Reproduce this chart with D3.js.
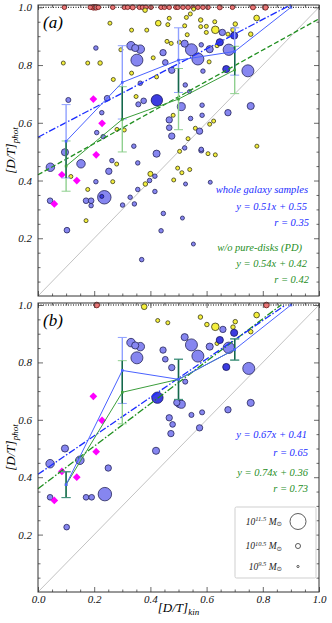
<!DOCTYPE html>
<html><head><meta charset="utf-8">
<script src="https://cdn.jsdelivr.net/npm/d3@7"></script>
<style>body{margin:0;background:#fff}svg{display:block}</style>
</head><body>
<script>
// ---------------- DATA ----------------
const xTickValues = [0.0, 0.2, 0.4, 0.6, 0.8, 1.0];
const yTickValues = [0.2, 0.4, 0.6, 0.8, 1.0];
const minorTickValues = [0.05,0.1,0.15,0.25,0.3,0.35,0.45,0.5,0.55,0.65,0.7,0.75,0.85,0.9,0.95];

// [D/T]kin, [D/T]phot, log stellar mass
const blueA = [
[0.206,0.859,10.4],[0.331,0.867,10.95],[0.346,0.859,10.8],[0.364,0.855,10.95],[0.352,0.817,11.25],[0.445,0.843,10.7],[0.453,0.809,10.6],[0.476,0.782,10.7],[0.364,0.737,10.4],[0.108,0.679,10.5],[0.246,0.685,10.6],[0.376,0.676,10.6],[0.357,0.664,10.5],[0.510,0.656,10.9],[0.227,0.635,10.4],[0.467,0.610,10.7],[0.467,0.583,10.6],[0.476,0.554,10.7],[0.209,0.566,10.4],[0.232,0.552,10.4],[0.341,0.519,10.4],
[0.546,0.853,11.25],[0.569,0.821,11.25],[0.611,0.855,10.8],[0.522,0.874,10.8],[0.581,0.870,10.4],[0.656,0.913,10.7],[0.679,0.853,11.2],[0.747,0.780,11.25],[0.587,0.779,10.4],[0.524,0.731,10.4],[0.539,0.708,10.3],[0.584,0.661,10.4],[0.757,0.658,10.8],[0.584,0.626,10.4],[0.676,0.635,10.7],[0.543,0.615,10.4],[0.575,0.571,10.7],[0.522,0.513,10.4],[0.581,0.508,10.4],
[0.096,0.498,10.8],[0.044,0.446,10.95],[0.153,0.458,10.95],[0.263,0.469,10.4],[0.252,0.432,10.7],[0.206,0.396,10.4],[0.043,0.330,10.6],[0.171,0.330,10.6],[0.189,0.330,10.6],[0.189,0.313,10.4],[0.236,0.342,11.35],[0.103,0.228,10.6],[0.355,0.461,10.4],[0.422,0.493,10.8],[0.328,0.342,10.4],[0.355,0.369,10.4],[0.343,0.319,10.4],[0.301,0.315,10.4],[0.397,0.400,10.4],[0.416,0.415,10.4],[0.416,0.362,10.4],[0.446,0.286,10.4],[0.438,0.226,10.4],[0.369,0.126,10.4],
[0.581,0.504,10.5],[0.525,0.388,10.3],[0.613,0.394,10.3],[0.514,0.270,10.3],[0.553,0.180,10.3]
];
const darkBlueA = [[0.423,0.678,11.2],[0.647,0.879,10.8],[0.698,0.902,10.8],[0.670,0.786,10.8],[0.227,0.345,10.3]];
const yellowA = [
[0.381,0.990,10.4],[0.256,0.945,10.3],[0.333,0.921,10.3],[0.387,0.921,10.3],[0.428,0.945,10.6],[0.467,0.962,10.3],[0.462,0.940,10.3],[0.459,0.882,10.3],[0.474,0.875,10.3],[0.503,0.879,10.3],[0.090,0.807,10.3],[0.177,0.807,10.3],[0.221,0.807,10.4],[0.295,0.853,10.3],[0.333,0.772,10.3],[0.268,0.750,10.3],[0.410,0.825,10.3],[0.349,0.691,10.3],[0.422,0.759,10.3],[0.481,0.626,10.3],[0.281,0.577,10.3],[0.307,0.575,10.3],
[0.554,0.994,10.3],[0.542,0.977,10.3],[0.528,0.965,10.3],[0.579,0.956,10.4],[0.599,0.934,10.3],[0.629,0.950,10.3],[0.522,0.936,10.3],[0.579,0.933,10.3],[0.631,0.922,10.85],[0.599,0.913,10.3],[0.702,0.942,10.4],[0.694,0.922,10.4],[0.676,0.907,10.3],[0.757,0.907,10.4],[0.778,0.963,10.6],[0.531,0.905,10.3],[0.637,0.867,10.3],[0.609,0.811,10.3],[0.625,0.606,10.3],[0.611,0.595,10.3],[0.560,0.581,10.3],[0.534,0.545,10.3],[0.779,0.519,10.3],
[0.117,0.414,10.3],[0.280,0.457,10.3],[0.266,0.396,10.3],[0.177,0.369,10.3],[0.171,0.261,10.3],[0.400,0.423,10.5],[0.382,0.388,10.4],[0.497,0.443,10.3],[0.483,0.402,10.3],
[0.605,0.493,10.3],[0.631,0.489,10.3],[0.540,0.438,10.3],[0.512,0.427,10.3],[0.504,0.501,10.3]
];
const pureDiskKinA = [0.094,0.186,0.197,0.206,0.215,0.266,0.307,0.319,0.337,0.361,0.372,0.384,0.402,0.438,0.450,0.467,0.491,0.498,0.516,0.534,0.552,0.569,0.587,0.605,0.647,0.692,0.765,0.809];
const pureDiskMassA = [10.4,10.4,10.6,10.6,10.4,10.4,10.4,10.4,10.5,10.4,10.4,10.4,10.4,10.4,10.4,10.4,10.4,10.4,10.4,10.4,10.4,10.4,10.4,10.4,10.5,10.4,10.5,10.6];

const blueB = [
[0.331,0.869,10.95],[0.346,0.859,10.8],[0.364,0.855,10.95],[0.352,0.816,11.25],[0.445,0.843,10.7],[0.453,0.811,10.6],[0.476,0.782,10.7],[0.494,0.660,10.7],[0.503,0.657,10.9],[0.467,0.607,10.7],[0.479,0.584,10.6],[0.473,0.552,10.7],[0.096,0.500,10.8],
[0.658,0.915,10.7],[0.522,0.888,10.8],[0.546,0.861,11.25],[0.569,0.822,11.25],[0.611,0.855,10.8],[0.679,0.851,11.2],[0.750,0.779,11.25],[0.524,0.733,10.5],[0.510,0.654,10.9],[0.757,0.659,10.8],[0.546,0.617,10.5],[0.584,0.626,10.5],[0.676,0.635,10.7],[0.575,0.572,10.7],
[0.043,0.447,10.95],[0.149,0.459,10.95],[0.250,0.432,10.7],[0.420,0.492,10.8],[0.043,0.330,10.6],[0.171,0.330,10.6],[0.191,0.330,10.6],[0.238,0.341,11.35],[0.102,0.226,10.6]
];
const darkBlueB = [[0.425,0.677,11.2],[0.698,0.903,10.8],[0.647,0.878,10.8],[0.670,0.784,10.8]];
const yellowB = [[0.378,0.994,10.6],[0.426,0.946,10.3],[0.462,0.938,10.3],[0.578,0.958,10.4],[0.601,0.932,10.4],[0.631,0.924,10.85],[0.702,0.942,10.4],[0.694,0.923,10.4],[0.778,0.965,10.6],[0.757,0.907,10.4],[0.637,0.866,10.3]];
const pureDiskKinB = [0.209, 0.813];
const pureDiskMassB = [10.6, 10.6];

const magentaKin = [0.197,0.228,0.207,0.085,0.138,0.058];
const magentaPhot = [0.682,0.598,0.489,0.420,0.400,0.319];

const binCenters = [0.1,0.3,0.5,0.7,0.9];
const blueMeanA = [0.536,0.740,0.817,0.847,1.0];
const blueErrA  = [0.127,0.127,0.112,0.082,0];
const greenMeanA = [0.450,0.612,0.682,0.783];
const greenErrA  = [0.087,0.113,0.106,0.082];
const blueMeanB = [0.374,0.772,0.741,0.845,1.0];
const blueErrB  = [0.045,0.115,0.070,0.037,0];
const greenMeanB = [0.374,0.696,0.741,0.845];
const greenErrB  = [0.045,0.110,0.070,0.037];

const fitA = {blue:[0.51,0.55,0.9], green:[0.54,0.42,1.0]};
const fitB = {blue:[0.67,0.41,0.88], green:[0.74,0.36,0.865]};
const textA = ["whole galaxy samples","y = 0.51x + 0.55","r = 0.35","w/o pure-disks (PD)","y = 0.54x + 0.42","r = 0.42"];
const textB = ["y = 0.67x + 0.41","r = 0.65","y = 0.74x + 0.36","r = 0.73"];
const legendMass = [11.5, 10.5, 9.5];
const legendSup = ["11.5","10.5","9.5"];

// ---------------- DRAW ----------------
const W=332,H=623, L=38, R=319;
const svg = d3.select('body').append('svg').attr('width',W).attr('height',H);
const x = d3.scaleLinear().domain([0,1]).range([L,R]);
const rS = d3.scaleSqrt().domain([0, Math.pow(10,11.5)]).range([0,8]);
const rad = m => rS(Math.pow(10,m));
const SERIF = "'Liberation Serif','DejaVu Serif',serif";
const cBlue='#8686f0', cDark='#3c3ce0', cYel='#f4ef3c', cRed='#ea7676';
const cBlueLine='#4a62ff', cBlueFit='#1a2cff', cGreenLine='#3c9e3c', cGreenFit='#1f8f1f';

function panel(cfg){
  const y = d3.scaleLinear().domain([0,cfg.ymax]).range([cfg.bottom,cfg.top]);
  const g = svg.append('g');
  // diagonal
  g.append('line').attr('x1',x(0)).attr('y1',y(0)).attr('x2',x(1)).attr('y2',y(1))
    .attr('stroke','#a8a8a8').attr('stroke-width',0.7);
  // dotted y=1
  g.append('line').attr('x1',x(0)).attr('x2',x(1)).attr('y1',y(1)).attr('y2',y(1))
    .attr('stroke','#000').attr('stroke-width',1).attr('stroke-dasharray','1,1.5');

  function scatter(data, fill, stroke){
    const d = data.slice().sort((a,b)=>b[2]-a[2]);
    g.append('g').selectAll('circle').data(d).join('circle')
      .attr('cx',p=>x(p[0])).attr('cy',p=>y(p[1])).attr('r',p=>rad(p[2]))
      .attr('fill',fill).attr('stroke',stroke).attr('stroke-width',0.8);
  }
  scatter(cfg.red.map((k,i)=>[k,1.0,cfg.redM[i]]), cRed, '#6a1010');
  scatter(cfg.yellow, cYel, '#3a3a1a');
  scatter(cfg.blue, cBlue, '#26265a');
  scatter(cfg.dark, cDark, '#14145a');
  // magenta diamonds
  g.append('g').selectAll('path').data(magentaKin).join('path')
    .attr('d', d3.symbol(d3.symbolSquare, 30))
    .attr('transform',(k,i)=>`translate(${x(k)},${y(magentaPhot[i])}) rotate(45)`)
    .attr('fill','#ff00ff');

  // fits
  const fitLine = (f, color, dash) => {
    const xs = [0, f[2]];
    g.append('path').datum(xs).attr('d', d3.line().x(v=>x(v)).y(v=>y(f[0]*v+f[1])))
      .attr('stroke',color).attr('stroke-width',1.3).attr('fill','none').attr('stroke-dasharray',dash);
  };
  fitLine(cfg.fit.green, cGreenFit, cfg.greenDash);
  fitLine(cfg.fit.blue, cBlueFit, '7,2,1.5,2');

  // error bars
  const eb = (means, errs, color, capColor) => {
    means.forEach((m,i)=>{ if(!errs[i]) return;
      const cx = x(binCenters[i]);
      g.append('line').attr('x1',cx).attr('x2',cx).attr('y1',y(m-errs[i])).attr('y2',y(m+errs[i]))
        .attr('stroke',color).attr('stroke-width',1.4);
      [m-errs[i], m+errs[i]].forEach(v=> g.append('line').attr('x1',cx-4.5).attr('x2',cx+4.5)
        .attr('y1',y(v)).attr('y2',y(v)).attr('stroke',capColor).attr('stroke-width',1));
    });
  };
  eb(cfg.bm, cfg.be, '#8fa0ff', '#8fa0ff');
  eb(cfg.gm, cfg.ge, '#8fd08f', '#8fd08f');
  // overlap (darker) segments
  cfg.gm.forEach((m,i)=>{
    const lo = Math.max(m-cfg.ge[i], cfg.bm[i]-cfg.be[i]);
    const hi = Math.min(m+cfg.ge[i], cfg.bm[i]+cfg.be[i]);
    if(hi>lo){ const cx=x(binCenters[i]);
      g.append('line').attr('x1',cx).attr('x2',cx).attr('y1',y(lo)).attr('y2',y(hi))
        .attr('stroke','#15684a').attr('stroke-width',1.4);
      [lo,hi].forEach(v=>{ if(Math.abs(v-(m-cfg.ge[i]))<1e-6||Math.abs(v-(m+cfg.ge[i]))<1e-6){
        if(Math.abs(v-(cfg.bm[i]-cfg.be[i]))<1e-6||Math.abs(v-(cfg.bm[i]+cfg.be[i]))<1e-6)
          g.append('line').attr('x1',cx-4.5).attr('x2',cx+4.5).attr('y1',y(v)).attr('y2',y(v)).attr('stroke','#3f8f7a').attr('stroke-width',1);
      }});
    }
  });
  // binned mean lines
  const meanLine = (means, color) => {
    const pts = means.map((m,i)=>[binCenters[i], m]);
    g.append('path').datum(pts).attr('d', d3.line().x(p=>x(p[0])).y(p=>y(p[1])))
      .attr('stroke',color).attr('stroke-width',1).attr('fill','none');
    g.append('g').selectAll('rect').data(pts).join('rect')
      .attr('x',p=>x(p[0])-1.3).attr('y',p=>y(p[1])-1.3).attr('width',2.6).attr('height',2.6).attr('fill',color);
  };
  meanLine(cfg.gm, cfg.gMeanColor);
  meanLine(cfg.bm, cfg.bMeanColor);

  // axes with inward ticks
  const fmt = d3.format('.1f');
  const ax = (axis, tx, ty) => {
    const a = g.append('g').attr('transform',`translate(${tx},${ty})`).call(axis);
    a.select('.domain').remove();
    a.selectAll('line').attr('stroke','#444').attr('stroke-width',0.8);
    a.selectAll('text').attr('font-family',SERIF).attr('font-style','italic').attr('font-size',11).attr('fill','#111');
    a.attr('font-family',null).attr('font-size',null);
    return a;
  };
  ax(d3.axisLeft(y).tickValues(yTickValues).tickSize(-5).tickPadding(6).tickFormat(fmt), L, 0);
  ax(d3.axisLeft(y).tickValues(minorTickValues).tickSize(-2.5).tickFormat(''), L, 0);
  ax(d3.axisRight(y).tickValues(yTickValues).tickSize(-5).tickFormat(''), R, 0);
  ax(d3.axisRight(y).tickValues(minorTickValues).tickSize(-2.5).tickFormat(''), R, 0);
  ax(d3.axisTop(x).tickValues(xTickValues).tickSize(-5).tickFormat(''), 0, cfg.top);
  ax(d3.axisTop(x).tickValues(minorTickValues).tickSize(-2.5).tickFormat(''), 0, cfg.top);
  ax(d3.axisBottom(x).tickValues(xTickValues).tickSize(-5).tickPadding(3).tickFormat(cfg.showX?fmt:''), 0, cfg.bottom);
  ax(d3.axisBottom(x).tickValues(minorTickValues).tickSize(-2.5).tickFormat(''), 0, cfg.bottom);
  // frame
  g.append('rect').attr('x',L).attr('y',cfg.top).attr('width',R-L).attr('height',cfg.bottom-cfg.top)
    .attr('fill','none').attr('stroke','#333').attr('stroke-width',1);

  // panel label
  g.append('text').attr('x',L+5).attr('y',cfg.top+23).text(cfg.label)
    .attr('font-family',SERIF).attr('font-style','italic').attr('font-size',17);
  // y label
  const yl = g.append('text').attr('transform',`translate(15,${(cfg.top+cfg.bottom)/2}) rotate(-90)`)
    .attr('text-anchor','middle').attr('font-family',SERIF).attr('font-style','italic').attr('font-size',13);
  yl.append('tspan').text('[D/T]');
  yl.append('tspan').text('phot').attr('font-size',9).attr('dy',3);

  // annotations
  cfg.texts.forEach(t=> g.append('text').attr('x',t[1]).attr('y',t[2]).attr('text-anchor','end')
    .attr('fill',t[3]).attr('font-family',SERIF).attr('font-style','italic').attr('font-size',10.5).text(t[0]));
  return y;
}

panel({top:5,bottom:296,ymax:1.008,label:'(a)',showX:false,
  blue:blueA, dark:darkBlueA, yellow:yellowA, red:pureDiskKinA, redM:pureDiskMassA,
  bm:blueMeanA, be:blueErrA, gm:greenMeanA, ge:greenErrA, fit:fitA, greenDash:'5,2.5',
  gMeanColor:cGreenLine, bMeanColor:cBlueLine,
  texts:[[textA[0],308,193,cBlueFit],[textA[1],307,209.5,cBlueFit],[textA[2],309,226,cBlueFit],
         [textA[3],302,250.5,cGreenFit],[textA[4],307,267,cGreenFit],[textA[5],309,283,cGreenFit]]});

panel({top:303,bottom:592,ymax:1.007,label:'(b)',showX:true,
  blue:blueB, dark:darkBlueB, yellow:yellowB, red:pureDiskKinB, redM:pureDiskMassB,
  bm:blueMeanB, be:blueErrB, gm:greenMeanB, ge:greenErrB, fit:fitB, greenDash:'7,2,1.5,2',
  gMeanColor:cGreenLine, bMeanColor:cBlueLine,
  texts:[[textB[0],307,437.5,cBlueFit],[textB[1],308,455.5,cBlueFit],[textB[2],308,475.5,cGreenFit],[textB[3],308,492,cGreenFit]]});

// x label
const xl = svg.append('text').attr('x',(L+R)/2).attr('y',612).attr('text-anchor','middle')
  .attr('font-family',SERIF).attr('font-style','italic').attr('font-size',13);
xl.append('tspan').text('[D/T]');
xl.append('tspan').text('kin').attr('font-size',9).attr('dy',3);

// legend
const lg = svg.append('g');
lg.append('rect').attr('x',235).attr('y',507).attr('width',81).attr('height',71)
  .attr('fill','#fff').attr('stroke','#cfcfcf').attr('stroke-width',1).attr('rx',1.5);
const legY = [521.5, 546, 566.5];
legendMass.forEach((m,i)=>{
  lg.append('circle').attr('cx',298).attr('cy',legY[i]).attr('r',Math.max(rad(m),1.1))
    .attr('fill','none').attr('stroke','#333').attr('stroke-width',0.8);
  const t = lg.append('text').attr('x',282).attr('y',legY[i]+3).attr('text-anchor','end')
    .attr('font-family',SERIF).attr('font-style','italic').attr('font-size',9.5).attr('fill','#222');
  t.append('tspan').text('10');
  t.append('tspan').text(legendSup[i]).attr('font-size',6.5).attr('dy',-3.5);
  t.append('tspan').text(' M').attr('dy',3.5);
  t.append('tspan').text('⊙').attr('font-size',6.5).attr('dy',1.5).attr('font-family',"'DejaVu Sans',sans-serif");
});
</script>
</body></html>
